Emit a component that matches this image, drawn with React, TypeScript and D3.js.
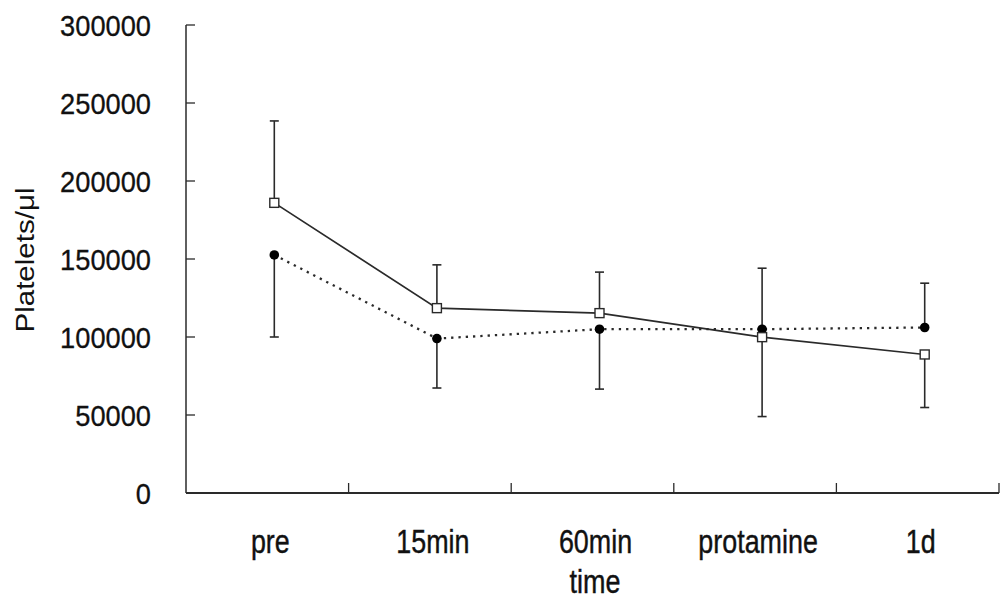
import React from "react";
import * as d3 from "d3";

const categories = ["pre", "15min", "60min", "protamine", "1d"];
const squareMean = [186000, 118500, 115300, 99900, 88800];
const squareSD = [52500, 27750, 26300, 50900, 34000];
const circleMean = [152600, 99000, 105000, 105000, 106100];
const circleSD = [52600, 31700, 38400, 39100, 28400];
const yTicks = [0, 50000, 100000, 150000, 200000, 250000, 300000];

const W = 1002;
const H = 602;
const left = 186;
const right = 999;
const top = 25;
const bottom = 493;
const pointShift = 7;

export default function App() {
  const x = d3.scaleBand<string>().domain(categories).range([left, right]).padding(0);
  const y = d3.scaleLinear().domain([0, 300000]).range([bottom, top]);
  const px = (i: number) => (x(categories[i]) as number) + x.bandwidth() / 2 + pointShift;
  const lineGen = d3
    .line<number>()
    .x((_, i) => px(i))
    .y((d) => y(d));

  const bars: { x: number; y0: number; y1: number }[] = [];
  categories.forEach((_, i) => {
    const sqUp = squareMean[i] >= circleMean[i];
    bars.push({
      x: px(i),
      y0: y(squareMean[i]),
      y1: y(sqUp ? squareMean[i] + squareSD[i] : squareMean[i] - squareSD[i]),
    });
    bars.push({
      x: px(i),
      y0: y(circleMean[i]),
      y1: y(sqUp ? circleMean[i] - circleSD[i] : circleMean[i] + circleSD[i]),
    });
  });

  const stroke = "#2a2a2a";
  const boundaries = categories.map((c) => (x(c) as number) + x.bandwidth());
  const font = "'Liberation Sans', Arial, sans-serif";

  return (
    <div style={{ position: "absolute", left: 0, top: 0 }}>
      <svg width={W} height={H} style={{ display: "block", background: "#fff" }}>
        {/* axes */}
        <line x1={left} x2={left} y1={top} y2={bottom} stroke={stroke} strokeWidth={1.5} />
        <line x1={left} x2={right} y1={bottom} y2={bottom} stroke={stroke} strokeWidth={1.8} />
        {yTicks.map((t) => (
          <g key={t}>
            {t > 0 && (
              <line x1={left} x2={left + 9} y1={y(t)} y2={y(t)} stroke={stroke} strokeWidth={1.3} />
            )}
            <text
              transform={`translate(151,${y(t)}) scale(0.94,1.04)`}
              dy="0.36em"
              textAnchor="end"
              fontFamily={font}
              fontSize={29}
              fill="#111"
              stroke="#111"
              strokeWidth={0.3}
            >
              {t}
            </text>
          </g>
        ))}
        {boundaries.map((b, i) => (
          <line key={i} x1={b} x2={b} y1={bottom - 10} y2={bottom} stroke={stroke} strokeWidth={1.3} />
        ))}
        {categories.map((c) => {
          const cx = (x(c) as number) + x.bandwidth() / 2 + 3;
          return (
            <text
              key={c}
              transform={`translate(${cx},553) scale(0.84,1.05)`}
              textAnchor="middle"
              fontFamily={font}
              fontSize={32}
              fill="#111"
              stroke="#111"
              strokeWidth={0.4}
            >
              {c}
            </text>
          );
        })}
        <text
          transform={`translate(595,593) scale(0.87,1.05)`}
          textAnchor="middle"
          fontFamily={font}
          fontSize={31}
          fill="#111"
          stroke="#111"
          strokeWidth={0.4}
        >
          time
        </text>
        <text
          transform={`translate(34,260) rotate(-90)`}
          textAnchor="middle"
          fontFamily={font}
          fontSize={25}
          textLength={145}
          lengthAdjust="spacingAndGlyphs"
          fill="#111"
        >
          Platelets/μl
        </text>

        {/* error bars */}
        {bars.map((b, i) => (
          <g key={i} stroke={stroke} strokeWidth={1.6}>
            <line x1={b.x} x2={b.x} y1={b.y0} y2={b.y1} />
            <line x1={b.x - 4.5} x2={b.x + 4.5} y1={b.y1} y2={b.y1} />
          </g>
        ))}

        {/* lines */}
        <path d={lineGen(circleMean) || ""} fill="none" stroke={stroke} strokeWidth={2.3} strokeDasharray="2.3,5" />
        <path d={lineGen(squareMean) || ""} fill="none" stroke={stroke} strokeWidth={1.7} />

        {/* markers */}
        {circleMean.map((v, i) => (
          <circle key={i} cx={px(i)} cy={y(v)} r={4.8} fill="#000" />
        ))}
        {squareMean.map((v, i) => (
          <rect
            key={i}
            x={px(i) - 4.5}
            y={y(v) - 4.5}
            width={9}
            height={9}
            fill="#fff"
            stroke={stroke}
            strokeWidth={1.4}
          />
        ))}
      </svg>
    </div>
  );
}
